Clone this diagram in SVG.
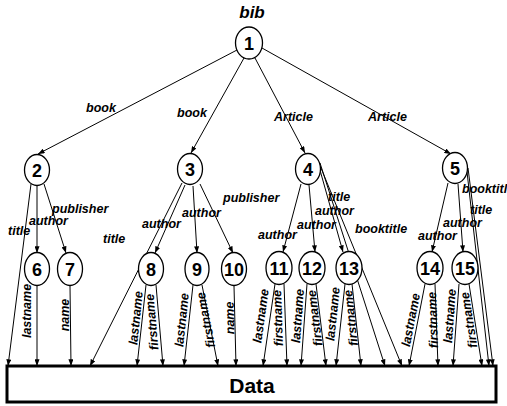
<svg xmlns="http://www.w3.org/2000/svg" width="507" height="406" viewBox="0 0 507 406">
  <style>
    .node ellipse { fill: #fff; stroke: #000; stroke-width: 1.3; }
    .num { font-family: "Liberation Sans", Arial, sans-serif; font-weight: bold; font-size: 18px; text-anchor: middle; fill: #000; }
    .lbl { font-family: "Liberation Sans", Arial, sans-serif; font-weight: bold; font-style: italic; font-size: 12.5px; fill: #000; }
    .vl { text-anchor: middle; }
    .edge { stroke: #000; stroke-width: 1; fill: none; marker-end: url(#arrow); }
    .title { font-family: "Liberation Sans", Arial, sans-serif; font-weight: bold; font-style: italic; font-size: 17px; text-anchor: middle; }
    .data-box { fill: #fff; stroke: #000; stroke-width: 3; }
    .data-text { font-family: "Liberation Sans", Arial, sans-serif; font-weight: bold; font-size: 21px; text-anchor: middle; }
  </style>
  <defs>
    <marker id="arrow" viewBox="0 0 8 6" refX="8" refY="3" markerWidth="7" markerHeight="5" markerUnits="userSpaceOnUse" orient="auto">
      <path d="M0,0 L8,3 L0,6 z" fill="#000"/>
    </marker>
  </defs>

  <rect width="507" height="406" fill="#fff"/>

  <text class="title" x="252" y="18">bib</text>

  <!-- Data store -->
  <g id="data">
    <rect class="data-box" x="7" y="366" width="489" height="36"/>
    <text class="data-text" x="252" y="393">Data</text>
  </g>

  <!-- Edges -->
  <g id="connectors">
    <!-- root -->
    <line class="edge" x1="237" y1="50" x2="38" y2="154"/>
    <line class="edge" x1="244" y1="58" x2="191" y2="153"/>
    <line class="edge" x1="255" y1="58" x2="305" y2="153"/>
    <line class="edge" x1="262" y1="48" x2="451" y2="154"/>
    <!-- node 2 -->
    <line class="edge" x1="31" y1="184" x2="8" y2="366"/>
    <line class="edge" x1="37" y1="186" x2="37" y2="253"/>
    <line class="edge" x1="44" y1="184" x2="66" y2="253"/>
    <!-- node 3 -->
    <line class="edge" x1="182" y1="183" x2="90" y2="366"/>
    <line class="edge" x1="185" y1="185" x2="155" y2="253"/>
    <line class="edge" x1="193" y1="186" x2="197" y2="253"/>
    <line class="edge" x1="200" y1="184" x2="233" y2="253"/>
    <!-- node 4 -->
    <line class="edge" x1="301" y1="184" x2="283" y2="252"/>
    <line class="edge" x1="309" y1="185" x2="315" y2="252"/>
    <line class="edge" x1="318" y1="163" x2="343" y2="252"/>
    <line class="edge" x1="320" y1="163" x2="385" y2="366"/>
    <line class="edge" x1="321" y1="168" x2="402" y2="366"/>
    <!-- node 5 -->
    <line class="edge" x1="448" y1="183" x2="432" y2="252"/>
    <line class="edge" x1="458" y1="184" x2="463" y2="252"/>
    <line class="edge" x1="466" y1="163" x2="489" y2="366"/>
    <line class="edge" x1="468" y1="168" x2="493" y2="366"/>
    <!-- leaves to Data -->
    <line class="edge" x1="37" y1="286" x2="37" y2="366"/>
    <line class="edge" x1="70" y1="286" x2="71" y2="366"/>
    <line class="edge" x1="146" y1="285" x2="137" y2="366"/>
    <line class="edge" x1="156" y1="285" x2="163" y2="366"/>
    <line class="edge" x1="193" y1="285" x2="184" y2="366"/>
    <line class="edge" x1="202" y1="285" x2="218" y2="366"/>
    <line class="edge" x1="234" y1="286" x2="236" y2="366"/>
    <line class="edge" x1="275" y1="284" x2="263" y2="366"/>
    <line class="edge" x1="284" y1="284" x2="287" y2="366"/>
    <line class="edge" x1="307" y1="284" x2="301" y2="366"/>
    <line class="edge" x1="316" y1="284" x2="326" y2="366"/>
    <line class="edge" x1="345" y1="284" x2="336" y2="366"/>
    <line class="edge" x1="352" y1="284" x2="361" y2="366"/>
    <line class="edge" x1="425" y1="284" x2="409" y2="366"/>
    <line class="edge" x1="435" y1="284" x2="438" y2="366"/>
    <line class="edge" x1="459" y1="284" x2="453" y2="366"/>
    <line class="edge" x1="469" y1="284" x2="482" y2="366"/>
  </g>

  <!-- Edge labels -->
  <g id="edge-labels">
    <text class="lbl" x="86" y="112">book</text>
    <text class="lbl" x="177" y="117">book</text>
    <text class="lbl" x="274" y="121">Article</text>
    <text class="lbl" x="368" y="121">Article</text>

    <text class="lbl" x="8" y="235">title</text>
    <text class="lbl" x="29" y="225">author</text>
    <text class="lbl" x="52" y="213">publisher</text>

    <text class="lbl" x="103" y="243">title</text>
    <text class="lbl" x="142" y="228">author</text>
    <text class="lbl" x="182" y="217">author</text>
    <text class="lbl" x="223" y="202">publisher</text>

    <text class="lbl" x="328" y="201">title</text>
    <text class="lbl" x="315" y="215">author</text>
    <text class="lbl" x="297" y="229">author</text>
    <text class="lbl" x="258" y="239">author</text>
    <text class="lbl" x="355" y="233">booktitle</text>

    <text class="lbl" x="462" y="193">booktitle</text>
    <text class="lbl" x="470" y="214">title</text>
    <text class="lbl" x="443" y="227">author</text>
    <text class="lbl" x="418" y="240">author</text>

    <text class="lbl vl" transform="translate(27,311) rotate(-90)" y="4">lastname</text>
    <text class="lbl vl" transform="translate(65,315) rotate(-90)" y="4">name</text>
    <text class="lbl vl" transform="translate(136,318) rotate(-84)" y="4">lastname</text>
    <text class="lbl vl" transform="translate(152,322) rotate(-95)" y="4">firstname</text>
    <text class="lbl vl" transform="translate(182,320) rotate(-84)" y="4">lastname</text>
    <text class="lbl vl" transform="translate(206,320) rotate(-101)" y="4">firstname</text>
    <text class="lbl vl" transform="translate(230,318) rotate(-91)" y="4">name</text>
    <text class="lbl vl" transform="translate(261,316) rotate(-82)" y="4">lastname</text>
    <text class="lbl vl" transform="translate(278,318) rotate(-92)" y="4">firstname</text>
    <text class="lbl vl" transform="translate(298,316) rotate(-86)" y="4">lastname</text>
    <text class="lbl vl" transform="translate(315,318) rotate(-97)" y="4">firstname</text>
    <text class="lbl vl" transform="translate(333,314) rotate(-84)" y="4">lastname</text>
    <text class="lbl vl" transform="translate(351,318) rotate(-96)" y="4">firstname</text>
    <text class="lbl vl" transform="translate(411,320) rotate(-79)" y="4">lastname</text>
    <text class="lbl vl" transform="translate(433,320) rotate(-92)" y="4">firstname</text>
    <text class="lbl vl" transform="translate(450,316) rotate(-86)" y="4">lastname</text>
    <text class="lbl vl" transform="translate(469,320) rotate(-99)" y="4">firstname</text>
  </g>

  <!-- Nodes -->
  <g id="n1" class="node"><ellipse cx="249" cy="43" rx="13.5" ry="16"/><text class="num" x="249" y="50">1</text></g>
  <g id="n2" class="node"><ellipse cx="37" cy="170" rx="12.5" ry="15.5"/><text class="num" x="37" y="177">2</text></g>
  <g id="n3" class="node"><ellipse cx="190" cy="169" rx="12.5" ry="15.5"/><text class="num" x="190" y="176">3</text></g>
  <g id="n4" class="node"><ellipse cx="308" cy="169" rx="12.5" ry="15.5"/><text class="num" x="308" y="176">4</text></g>
  <g id="n5" class="node"><ellipse cx="455" cy="168" rx="12.5" ry="15.5"/><text class="num" x="455" y="175">5</text></g>
  <g id="n6" class="node"><ellipse cx="37" cy="269" rx="12.5" ry="16.5"/><text class="num" x="37" y="276">6</text></g>
  <g id="n7" class="node"><ellipse cx="70" cy="269" rx="12.5" ry="16.5"/><text class="num" x="70" y="276">7</text></g>
  <g id="n8" class="node"><ellipse cx="151" cy="269" rx="12.5" ry="16.5"/><text class="num" x="151" y="276">8</text></g>
  <g id="n9" class="node"><ellipse cx="197" cy="269" rx="12" ry="16.5"/><text class="num" x="197" y="276">9</text></g>
  <g id="n10" class="node"><ellipse cx="234" cy="269" rx="12.5" ry="16.5"/><text class="num" x="234" y="276">10</text></g>
  <g id="n11" class="node"><ellipse cx="279" cy="268" rx="13" ry="16.5"/><text class="num" x="279" y="275">11</text></g>
  <g id="n12" class="node"><ellipse cx="312" cy="268" rx="13" ry="16.5"/><text class="num" x="312" y="275">12</text></g>
  <g id="n13" class="node"><ellipse cx="349" cy="268" rx="13" ry="16.5"/><text class="num" x="349" y="275">13</text></g>
  <g id="n14" class="node"><ellipse cx="430" cy="268" rx="13" ry="16.5"/><text class="num" x="430" y="275">14</text></g>
  <g id="n15" class="node"><ellipse cx="465" cy="268" rx="13" ry="16.5"/><text class="num" x="465" y="275">15</text></g>
</svg>
